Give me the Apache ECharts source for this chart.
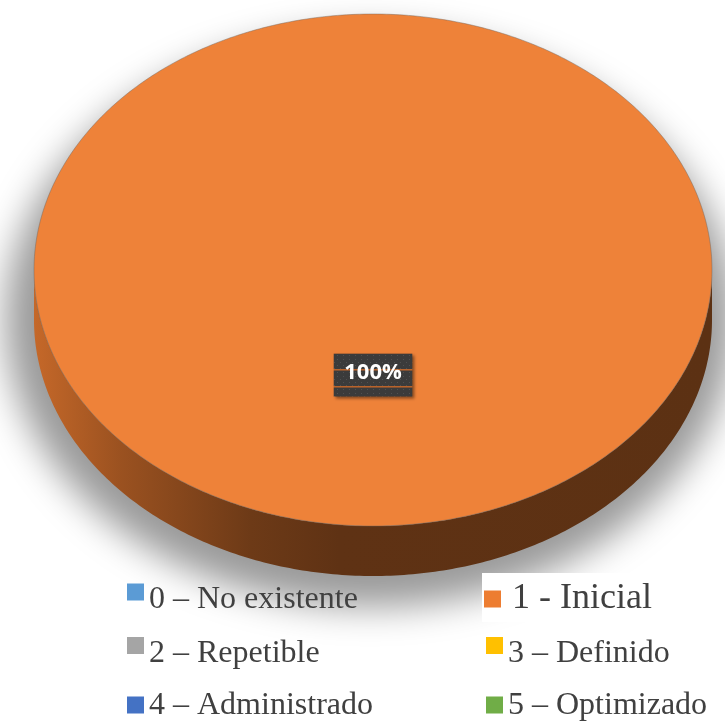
<!DOCTYPE html>
<html>
<head>
<meta charset="utf-8">
<script src="https://cdn.jsdelivr.net/npm/echarts@6/dist/echarts.min.js"></script>
<style>
  html, body { margin: 0; padding: 0; background: #ffffff; }
  #chart { width: 725px; height: 722px; }
</style>
</head>
<body>
<div id="chart"></div>
<script>
// Maturity levels and their share of responses (percent)
const categories = ['0 – No existente', '1 - Inicial', '2 – Repetible', '3 – Definido', '4 – Administrado', '5 – Optimizado'];
const shares = [0, 100, 0, 0, 0, 0];
const palette = ['#5B9BD5', '#ED7D31', '#A5A5A5', '#FFC000', '#4472C4', '#70AD47'];

// Tilted pie geometry (ellipse of the top face, thickness of the rim)
const CX = 373, CY = 270, RX = 339, RY = 256, DEPTH = 50;
const LABEL_FRAC = 0.41;

const total = shares.reduce((a, b) => a + b, 0);
const startShare = [];
(function () { let acc = 0; shares.forEach(v => { startShare.push(acc); acc += v; }); })();

// angle measured clockwise from 12 o'clock
function pt(phi, dy) {
  return [CX + RX * Math.sin(phi), CY - RY * Math.cos(phi) + (dy || 0)];
}
function arcPts(a, b, dy) {
  const steps = Math.max(2, Math.ceil(Math.abs(b - a) / (Math.PI / 240)));
  const out = [];
  for (let i = 0; i <= steps; i++) out.push(pt(a + (b - a) * i / steps, dy));
  return out;
}
function rgb(hex) {
  const n = parseInt(hex.slice(1), 16);
  return [(n >> 16) & 255, (n >> 8) & 255, n & 255];
}
function scaleColor(hex, f) {
  const c = rgb(hex).map(v => Math.max(0, Math.min(255, Math.round(v * f))));
  return 'rgb(' + c.join(',') + ')';
}
function liftColor(hex, f) {
  const c = rgb(hex).map(v => Math.round(v + (255 - v) * f));
  return 'rgb(' + c.join(',') + ')';
}

// dotted dark texture for the value label box
function labelTexture() {
  const c = document.createElement('canvas');
  c.width = 6; c.height = 17;
  const g = c.getContext('2d');
  g.fillStyle = '#3b3b3b'; g.fillRect(0, 0, 6, 17);
  g.fillStyle = '#505050';
  [[1, 2], [4, 5], [1, 8], [4, 11], [1, 15]].forEach(p => g.fillRect(p[0], p[1], 1, 1));
  g.fillStyle = '#b8632b'; g.fillRect(0, 12, 6, 1);
  g.fillStyle = 'rgba(184,99,43,0.55)'; g.fillRect(0, 13, 6, 1);
  return c;
}
const texture = labelTexture();

function measure(text, font) {
  const ctx = document.createElement('canvas').getContext('2d');
  ctx.font = font;
  return ctx.measureText(text).width;
}

function renderSlice(idx) {
  return function (params, api) {
    const v = api.value(0);
    if (!v || !total) return { type: 'group', children: [] };
    const color = palette[idx];
    const a = startShare[idx] / total * Math.PI * 2;
    const b = (startShare[idx] + v) / total * Math.PI * 2;
    const children = [];

    // visible rim: front half of the ellipse
    const s = Math.max(a, Math.PI / 2), e = Math.min(b, Math.PI * 1.5);
    if (e > s) {
      const upper = arcPts(s, e, 0);
      const lower = arcPts(e, s, DEPTH);
      children.push({
        type: 'polygon',
        shape: { points: upper.concat(lower) },
        style: {
          fill: {
            type: 'linear', x: CX - RX, y: 0, x2: CX + RX, y2: 0, global: true,
            colorStops: [
              { offset: 0, color: scaleColor(color, 0.83) },
              { offset: 0.13, color: scaleColor(color, 0.65) },
              { offset: 0.32, color: scaleColor(color, 0.46) },
              { offset: 0.45, color: scaleColor(color, 0.40) },
              { offset: 1, color: scaleColor(color, 0.39) }
            ]
          }
        }
      });
    }

    // top face
    let topPts;
    if (b - a >= Math.PI * 2 - 1e-6) topPts = arcPts(a, b, 0);
    else topPts = [[CX, CY]].concat(arcPts(a, b, 0));
    children.push({
      type: 'polygon',
      shape: { points: topPts },
      style: { fill: liftColor(color, 0.04), stroke: 'rgba(110,100,95,0.55)', lineWidth: 0.8 }
    });

    // value label
    const mid = (a + b) / 2;
    const lx = CX + LABEL_FRAC * RX * Math.sin(mid);
    const ly = CY - LABEL_FRAC * RY * Math.cos(mid);
    const txt = Math.round(v / total * 100) + '%';
    const font = 'bold 22px "Open Sans"';
    const w = measure(txt, font) + 21, h = 43;
    children.push({
      type: 'rect',
      shape: { x: lx - w / 2, y: ly - h / 2, width: w, height: h },
      style: {
        fill: { image: texture, repeat: 'repeat' },
        shadowBlur: 3, shadowOffsetX: 2, shadowOffsetY: 2, shadowColor: 'rgba(0,0,0,0.45)'
      }
    });
    children.push({
      type: 'text',
      x: lx, y: ly - 2,
      style: {
        text: txt, fill: '#ffffff', font: font,
        align: 'center', verticalAlign: 'middle'
      }
    });
    return { type: 'group', children: children };
  };
}

// soft cast shadow under the pie, drawn off-canvas so only its blur shows
function renderShadow() {
  return {
    type: 'ellipse',
    x: -2000,
    shape: { cx: CX - 3, cy: CY + 50, rx: RX * 1.075, ry: RY * 1.12 },
    style: { fill: '#000', shadowBlur: 36, shadowOffsetX: 2000, shadowColor: 'rgba(0,0,0,0.40)' },
    silent: true
  };
}

const series = [{
  name: 'shadow', type: 'custom', coordinateSystem: 'none', silent: true, z: 1,
  data: [[1]], renderItem: renderShadow
}];
categories.forEach((name, i) => {
  series.push({
    name: name, type: 'custom', coordinateSystem: 'none', z: 2,
    itemStyle: { color: palette[i] },
    data: [[shares[i]]],
    renderItem: renderSlice(i)
  });
});

// Legend: two columns, one legend box per entry.
// slot: marker left edge, marker centre y, text drop below marker centre, font size, extra text gap
const legendSlots = [
  { left: 127, cy: 592, drop: 8, size: 32, gap: 0 },
  { left: 484, cy: 599, drop: 0, size: 36, gap: 6, backdrop: true },
  { left: 127, cy: 645.5, drop: 8, size: 32, gap: 0 },
  { left: 486, cy: 645.5, drop: 8, size: 32, gap: 0 },
  { left: 127, cy: 705, drop: 1, size: 32, gap: 0 },
  { left: 486, cy: 705, drop: 1, size: 32, gap: 0 }
];
const MARK = 17, LINE_H = 38;
const legends = categories.map((name, i) => {
  const s = legendSlots[i];
  // marker square sits at the top of a taller icon box; the text is centred on the box
  const boxH = MARK + 2 * s.drop;
  const icon = s.drop > 0
    ? 'path://M0,0L' + MARK + ',0L' + MARK + ',' + MARK + 'L0,' + MARK + 'Z M0,' + boxH + 'L0.01,' + boxH
    : 'rect';
  const textCenter = s.cy + s.drop;
  const top = Math.min(s.cy - MARK / 2, textCenter - LINE_H / 2);
  const pad = s.backdrop ? [7, 5, 4, 2] : 0;
  return {
    orient: 'vertical',
    left: s.backdrop ? s.left - 2 : s.left,
    top: s.backdrop ? top - 7 : top,
    padding: pad, height: 120,
    backgroundColor: s.backdrop ? '#ffffff' : 'transparent',
    itemWidth: MARK, itemHeight: boxH, icon: icon,
    selectedMode: false,
    textStyle: {
      fontFamily: '"Liberation Serif", "Times New Roman", serif',
      fontSize: s.size, color: '#404040', lineHeight: LINE_H,
      padding: [0, 0, 0, s.gap]
    },
    data: [name]
  };
});

const chart = echarts.init(document.getElementById('chart'), null, { renderer: 'canvas' });
chart.setOption({
  backgroundColor: '#ffffff',
  animation: false,
  color: palette,
  legend: legends,
  series: series
});
</script>
</body>
</html>
